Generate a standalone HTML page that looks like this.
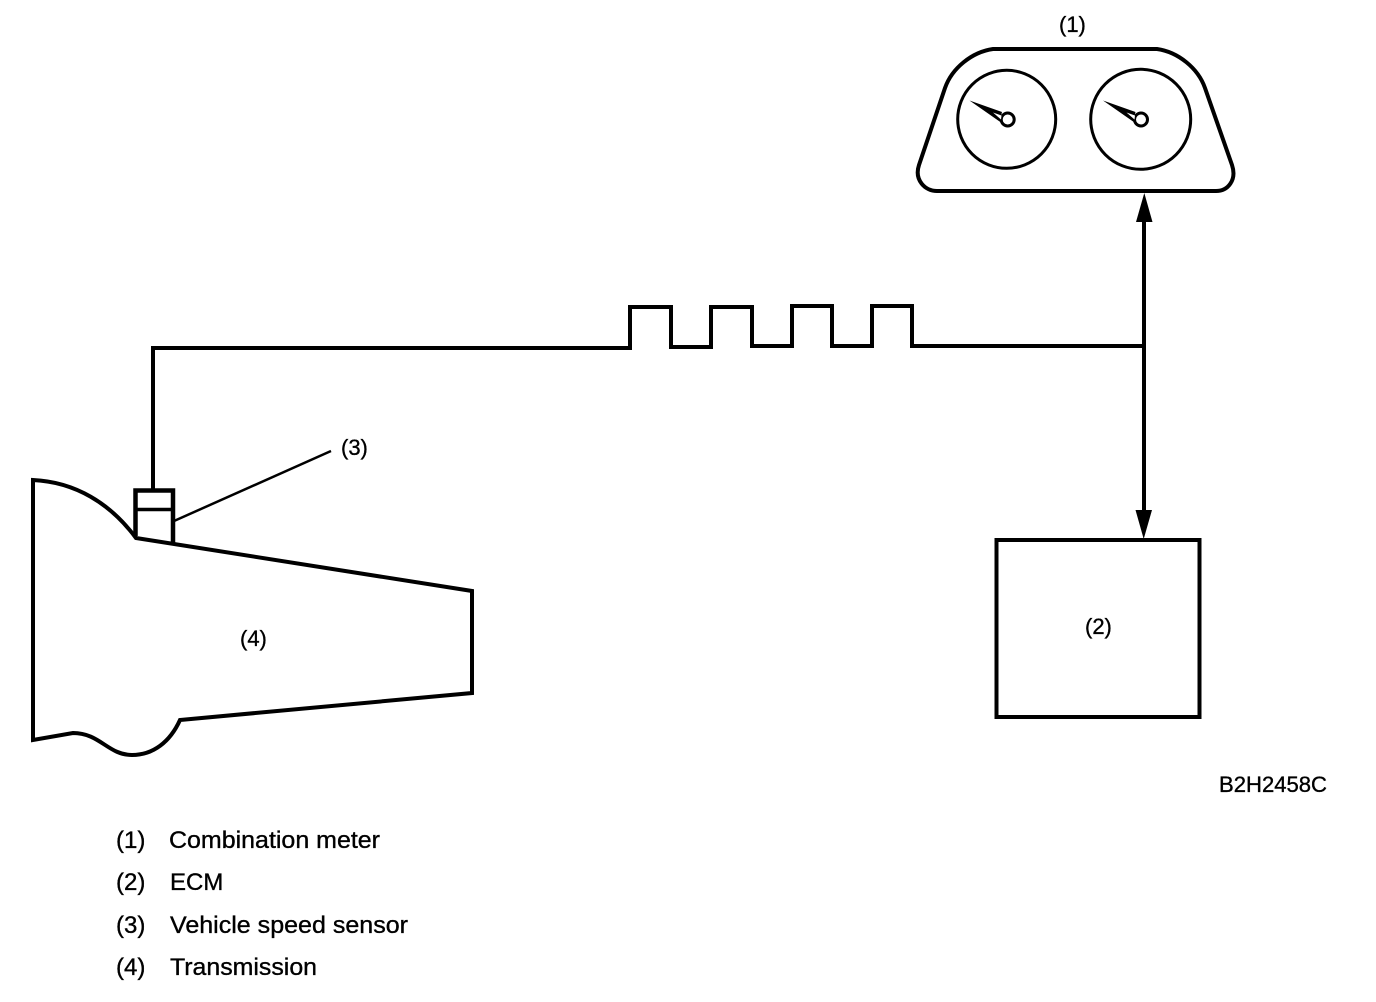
<!DOCTYPE html>
<html>
<head>
<meta charset="utf-8">
<style>
html,body{margin:0;padding:0;background:#fff;width:1376px;height:1002px;overflow:hidden}
svg{display:block}
text{font-family:"Liberation Sans",Arial,sans-serif;fill:#000;stroke:#000;stroke-width:.35px}
</style>
</head>
<body>
<svg width="1376" height="1002" viewBox="0 0 1376 1002" xmlns="http://www.w3.org/2000/svg">
<rect width="1376" height="1002" fill="#fff"/>
<g fill="none" stroke="#000" stroke-width="4" stroke-linejoin="miter">
  <!-- Combination meter -->
  <path d="M993 49 H1157 C1178 52 1198 68 1205 88 L1232 165 C1237 180 1228 191 1216 191 H937 C925 191 914 180 919 165 L945 88 C952 68 972 52 993 49 Z" stroke-width="4"/>
  <circle cx="1006.700" cy="119.300" r="49" stroke-width="3"/>
  <circle cx="1140.700" cy="119.300" r="50" stroke-width="3"/>
  <circle cx="1007.700" cy="119.500" r="6.500" stroke-width="3"/>
  <circle cx="1141" cy="119.500" r="6.500" stroke-width="3"/>
  <!-- Wire -->
  <path d="M153 489 V348 H630 V307 H671 V347 H711 V307 H752 V346 H792 V306 H832 V346 H872 V306 H912 V346 H1144" stroke-width="4"/>
  <path d="M1144 215 V515" stroke-width="4"/>
  <!-- Sensor -->
  <path d="M135.500 536 V490.500 H173 V544" stroke-width="4.500"/>
  <path d="M135.500 509.500 H173" stroke-width="3.500"/>
  <path d="M174 521 L331 451" stroke-width="2.500"/>
  <!-- Transmission -->
  <path d="M33 480 C75 482 110 503 136 538 L472 591 V693 L180 720 C170 742 153 755 132 755 C108 755 100 733 73 733 L33 740 Z" stroke-width="4"/>
  <!-- ECM -->
  <rect x="996.500" y="540" width="203" height="177" stroke-width="4"/>
</g>
<!-- Needles -->
<path d="M969.500 100.500 L1002 112 L1001 116 L1001 122.500 Z" fill="#000"/>
<path d="M1103 100.500 L1135.500 112 L1134.500 116 L1134.500 122.500 Z" fill="#000"/>
<path d="M993 112.500 L1001.500 115.500 L1001 119.500 Z" fill="#fff"/>
<path d="M1126.500 112.500 L1135 115.500 L1134.500 119.500 Z" fill="#fff"/>
<!-- Arrowheads -->
<polygon points="1144.300,193 1152.500,222 1136,222" fill="#000"/>
<polygon points="1143.700,539 1135.500,510 1152,510" fill="#000"/>
<!-- Labels -->
<g font-size="22">
  <text x="1059" y="32">(1)</text>
  <text x="341" y="455">(3)</text>
  <text x="240" y="646">(4)</text>
  <text x="1085" y="634">(2)</text>
  <text x="1219" y="792" font-size="22" textLength="108" lengthAdjust="spacingAndGlyphs">B2H2458C</text>
</g>
<g font-size="24">
  <text x="116" y="848">(1)</text>
  <text x="169" y="848" textLength="211" lengthAdjust="spacingAndGlyphs">Combination meter</text>
  <text x="116" y="890">(2)</text>
  <text x="170" y="890">ECM</text>
  <text x="116" y="933">(3)</text>
  <text x="170" y="933" textLength="238" lengthAdjust="spacingAndGlyphs">Vehicle speed sensor</text>
  <text x="116" y="975">(4)</text>
  <text x="170" y="975" textLength="147" lengthAdjust="spacingAndGlyphs">Transmission</text>
</g>
</svg>
</body>
</html>
